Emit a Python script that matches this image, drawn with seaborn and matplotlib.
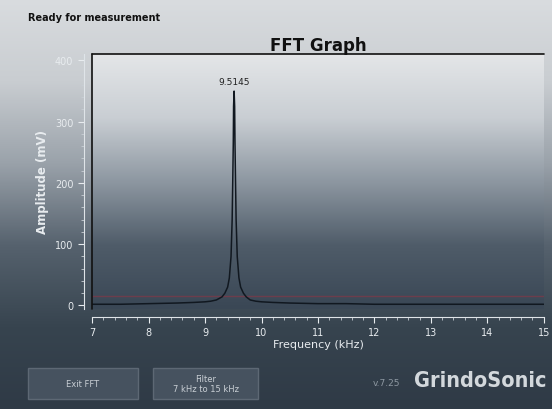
import numpy as np
import matplotlib
matplotlib.use("Agg")
import matplotlib.pyplot as plt
import seaborn as sns
import pandas as pd
from matplotlib.colors import LinearSegmentedColormap
from matplotlib.patches import FancyBboxPatch
from matplotlib.ticker import MultipleLocator

# --- data ---
freq_khz = [7.0, 7.5, 8.0, 8.5, 8.8, 9.0, 9.1, 9.2, 9.3, 9.35, 9.4, 9.43, 9.46,
            9.48, 9.49, 9.50, 9.505, 9.5145, 9.524, 9.53, 9.54, 9.55, 9.57,
            9.60, 9.63, 9.68, 9.73, 9.8, 9.9, 10.0, 10.2, 10.5, 11.0, 11.5,
            12.0, 13.0, 14.0, 15.0]
amp_mv = [2, 2, 3, 4, 5, 6, 7, 9, 14, 20, 30, 45, 80,
          140, 200, 265, 325, 350, 325, 265, 200, 140, 80,
          45, 30, 20, 14, 9, 7, 6, 5, 4, 3, 3,
          2, 2, 2, 2]
peak_label = "9.5145"
threshold_mv = 15
x_ticks = [7, 8, 9, 10, 11, 12, 13, 14, 15]
y_ticks = [0, 100, 200, 300, 400]

df = pd.DataFrame({"freq": freq_khz, "amp": amp_mv})

sns.set_theme(style="ticks")
plt.rcParams["font.family"] = ["DejaVu Sans"]

fig = plt.figure(figsize=(5.52, 4.10), dpi=100)

# panel background gradient
bg = fig.add_axes([0, 0, 1, 1], zorder=0)
panel_cmap = LinearSegmentedColormap.from_list(
    "panel", ["#2f3a46", "#37444f", "#56626e", "#9aa2aa", "#c9cdd1", "#d9dcdf"])
grad = np.linspace(0, 1, 256).reshape(-1, 1)
bg.imshow(grad, aspect="auto", cmap=panel_cmap, origin="lower", extent=[0, 1, 0, 1])
bg.set_xlim(0, 1)
bg.set_ylim(0, 1)
bg.axis("off")

# main plot
ax = fig.add_axes([0.167, 0.245, 0.818, 0.62], zorder=2)
ax.set_facecolor("none")
plot_cmap = LinearSegmentedColormap.from_list(
    "plot", ["#3a4755", "#4f5c69", "#8d97a1", "#c9ced3", "#e4e6e8"])
ax.imshow(grad, aspect="auto", cmap=plot_cmap, origin="lower",
          extent=[7, 15, -5, 410], zorder=0)

ax.axhline(threshold_mv, color="#7a3a4a", lw=1.0, alpha=0.8, zorder=1)
sns.lineplot(data=df, x="freq", y="amp", ax=ax, color="#111820", lw=1.1, zorder=3)
ax.annotate(peak_label, xy=(9.5145, max(amp_mv)), xytext=(0, 4),
            textcoords="offset points", ha="center", va="bottom",
            fontsize=6.5, color="#222222")

ax.set_xlim(7, 15)
ax.set_ylim(-5, 410)
ax.set_xticks(x_ticks)
ax.set_yticks(y_ticks)
ax.xaxis.set_minor_locator(MultipleLocator(0.2))
ax.yaxis.set_minor_locator(MultipleLocator(20))
ax.tick_params(axis="both", which="major", colors="#e8ecef", labelsize=7, length=4, width=0.8)
ax.tick_params(axis="both", which="minor", colors="#c8ced4", length=2, width=0.6)
for lbl in ax.get_xticklabels() + ax.get_yticklabels():
    lbl.set_fontweight("bold")
    lbl.set_color("#e8ecef")

for side in ["left", "bottom"]:
    ax.spines[side].set_position(("outward", 6))
    ax.spines[side].set_color("#dfe4e8")
    ax.spines[side].set_linewidth(0.8)
ax.spines["top"].set_visible(False)
ax.spines["right"].set_visible(False)

# inner frame of the plot area
ax.plot([7, 7], [-5, 410], color="#111111", lw=1.2, zorder=4, clip_on=False)
ax.plot([7, 15], [410, 410], color="#111111", lw=1.2, zorder=4, clip_on=False)

ax.set_xlabel("Frequency (kHz)", color="#e8ecef", fontsize=8, labelpad=1)
ax.set_ylabel("Amplitude (mV)", color="#e8ecef", fontsize=8.5, fontweight="bold", labelpad=4)
ax.set_title("FFT Graph", fontsize=12, fontweight="bold", color="#111111", pad=3)

fig.text(0.05, 0.955, "Ready for measurement", fontsize=7, fontweight="bold",
         color="#111111", ha="left", va="center")

# buttons
for x0, w, txt in [(0.05, 0.20, "Exit FFT"), (0.278, 0.19, "Filter\n7 kHz to 15 kHz")]:
    box = FancyBboxPatch((x0, 0.025), w, 0.075, boxstyle="square,pad=0",
                         transform=fig.transFigure, facecolor="#46525f",
                         edgecolor="#5d6874", lw=1.0, zorder=3)
    fig.patches.append(box)
    fig.text(x0 + w / 2, 0.0625, txt, fontsize=6, color="#c8ced4",
             ha="center", va="center", linespacing=1.1, zorder=4)

fig.text(0.675, 0.065, "v.7.25", fontsize=6.5, color="#8e98a2", ha="left", va="center")
fig.text(0.99, 0.07, "GrindoSonic", fontsize=15.5, fontweight="bold",
         fontstretch="condensed", color="#d3d8dc", ha="right", va="center")

fig.savefig("out.png", dpi=100)
